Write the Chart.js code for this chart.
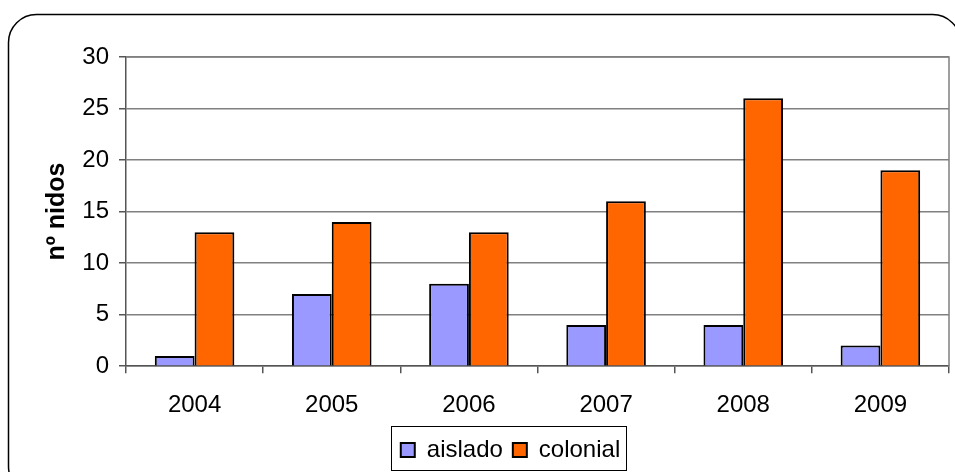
<!DOCTYPE html>
<html>
<head>
<meta charset="utf-8">
<script src="https://cdn.jsdelivr.net/npm/chart.js@4"></script>
<style>
  html, body { margin: 0; padding: 0; background: #fff; }
  #wrap { width: 955px; height: 472px; position: relative; }
</style>
</head>
<body>
<div id="wrap"><canvas id="nidos"></canvas></div>
<script>
const years = ["2004", "2005", "2006", "2007", "2008", "2009"];
const aislado = [1, 7, 8, 4, 4, 2];
const colonial = [13, 14, 13, 16, 26, 19];
const yTicks = [0, 5, 10, 15, 20, 25, 30];

const FONT = "'Liberation Sans', Arial, sans-serif";

const frame = {
  id: "frame",
  afterLayout(chart) {
    // legend sits a bit right of the canvas centre, like the original
    const lg = chart.legend;
    lg.left += 36;
    lg.right += 36;
  },
  beforeDraw(chart) {
    const ctx = chart.ctx;
    ctx.save();
    ctx.fillStyle = "#fff";
    ctx.fillRect(0, 0, chart.width, chart.height);
    ctx.strokeStyle = "#000";
    ctx.lineWidth = 1.5;
    ctx.beginPath();
    ctx.roundRect(8.5, 14.5, 952, 480, 28);
    ctx.stroke();
    ctx.restore();
  },
  afterDatasetsDraw(chart) {
    const a = chart.chartArea;
    const ctx = chart.ctx;
    ctx.save();
    ctx.strokeStyle = "#808080";
    ctx.lineWidth = 1.5;
    ctx.beginPath();
    ctx.moveTo(a.left, a.top);
    ctx.lineTo(a.right, a.top);
    ctx.lineTo(a.right, a.bottom);
    ctx.stroke();
    ctx.restore();
  },
  afterDraw(chart) {
    const boxes = chart.legend.legendHitBoxes;
    if (!boxes || !boxes.length) return;
    let l = Infinity, t = Infinity, r = -Infinity, b = -Infinity;
    boxes.forEach((h) => {
      l = Math.min(l, h.left);
      t = Math.min(t, h.top);
      r = Math.max(r, h.left + h.width);
      b = Math.max(b, h.top + h.height);
    });
    const ctx = chart.ctx;
    ctx.save();
    ctx.strokeStyle = "#000";
    ctx.lineWidth = 1;
    ctx.strokeRect(Math.round(l - 10) + 0.5, Math.round(t - 12) + 0.5, Math.round(r - l + 16), Math.round(b - t + 20));
    ctx.restore();
  },
};

new Chart(document.getElementById("nidos"), {
  type: "bar",
  data: {
    labels: years,
    datasets: [
      {
        label: "aislado",
        data: aislado,
        backgroundColor: "#9999FF",
        borderColor: "#000",
        borderWidth: 2,
      },
      {
        label: "colonial",
        data: colonial,
        backgroundColor: "#FF6600",
        borderColor: "#000",
        borderWidth: 2,
      },
    ],
  },
  options: {
    responsive: true,
    maintainAspectRatio: false,
    animation: false,
    layout: {
      padding: { left: 0, right: 6, top: 57, bottom: 0 },
    },
    datasets: {
      bar: {
        categoryPercentage: 0.58,
        barPercentage: 1.0,
      },
    },
    plugins: {
      legend: {
        position: "bottom",
        labels: {
          color: "#000",
          boxWidth: 14,
          boxHeight: 14,
          padding: 10,
          font: { family: FONT, size: 24 },
        },
      },
      tooltip: { enabled: false },
    },
    scales: {
      x: {
        afterFit(scale) {
          scale.height -= 10;
        },
        grid: {
          drawOnChartArea: false,
          drawTicks: true,
          tickLength: 7,
          color: "#555",
          lineWidth: 1.5,
        },
        border: { color: "#555", width: 1.5 },
        ticks: {
          color: "#000",
          padding: 18,
          font: { family: FONT, size: 24 },
        },
      },
      y: {
        min: 0,
        max: 30,
        afterBuildTicks(scale) {
          scale.ticks = yTicks.map((v) => ({ value: v }));
        },
        afterFit(scale) {
          scale.width = 126;
        },
        grid: {
          color: "#808080",
          lineWidth: 1.5,
          tickLength: 7,
          tickColor: "#555",
        },
        border: { color: "#555", width: 1.5 },
        ticks: {
          color: "#000",
          padding: 10,
          font: { family: FONT, size: 24 },
        },
        title: {
          display: true,
          text: "nº nidos",
          color: "#000",
          padding: { top: 42, bottom: 0 },
          font: { family: FONT, size: 25, weight: "bold" },
        },
      },
    },
  },
  plugins: [frame],
});
</script>
</body>
</html>
